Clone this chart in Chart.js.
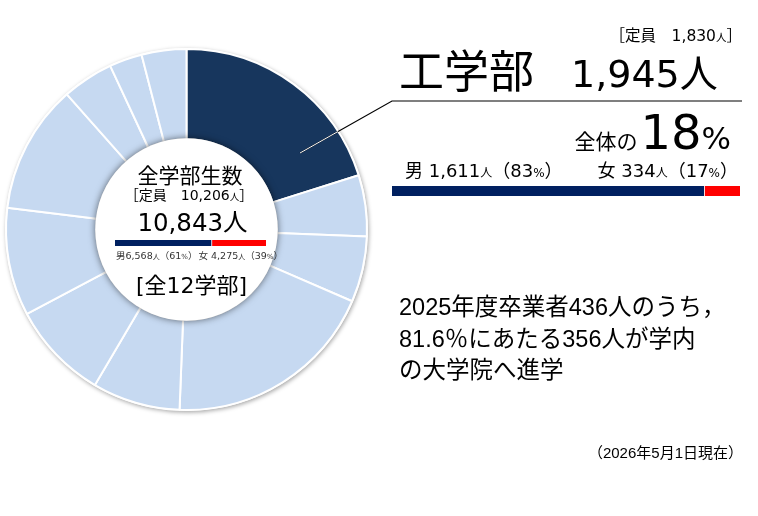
<!DOCTYPE html>
<html lang="ja">
<head>
<meta charset="utf-8">
<script src="https://cdn.jsdelivr.net/npm/chart.js@4.4.1/dist/chart.umd.min.js"></script>
<style>
  html, body { margin: 0; padding: 0; background: #fff; }
  #wrap { position: relative; width: 758px; height: 516px; overflow: hidden; }
  #donut { position: absolute; left: 0; top: 0; }
  .bar { position: absolute; }
  #overlay { position: absolute; left: 0; top: 0; pointer-events: none; }
  .mei { font-family: "DejaVu Sans", "Noto Sans CJK JP", sans-serif; fill: #000; }
  .ari { font-family: "Liberation Sans", "Noto Sans CJK JP", sans-serif; fill: #000; }
</style>
</head>
<body>
<div id="wrap">
  <canvas id="donut" width="758" height="516"></canvas>
  <canvas id="allBar" class="bar" width="151" height="6" style="left:115px;top:239.5px"></canvas>
  <canvas id="engBar" class="bar" width="348" height="10" style="left:392px;top:186px"></canvas>

  <svg id="overlay" width="758" height="516">
    <!-- right side: 工学部 -->
    <text class="mei" x="742" y="40.5" text-anchor="end" style="font-size:15.5px">［定員　1,830<tspan style="font-size:10.5px">人</tspan>］</text>
    <text class="mei" x="399" y="88" style="font-size:45px">工学部</text>
    <text class="mei" x="571" y="87" style="font-size:38px">1,945人</text>
    <text class="mei" x="731" y="149" text-anchor="end"><tspan style="font-size:21px">全体の</tspan><tspan style="font-size:48px" dx="3">18</tspan><tspan style="font-size:31px">%</tspan></text>
    <text class="mei" x="405" y="177" style="font-size:18px">男 1,611<tspan style="font-size:12px">人</tspan>（83<tspan style="font-size:12px">%</tspan>）</text>
    <text class="mei" x="738" y="177" text-anchor="end" style="font-size:18px">女 334<tspan style="font-size:12px">人</tspan>（17<tspan style="font-size:12px">%</tspan>）</text>

    <!-- center of donut -->
    <text class="mei" x="190" y="183" text-anchor="middle" style="font-size:21px">全学部生数</text>
    <text class="mei" x="189" y="200" text-anchor="middle" style="font-size:14px">［定員　10,206<tspan style="font-size:9.5px">人</tspan>］</text>
    <text class="mei" x="192.5" y="231" text-anchor="middle" style="font-size:24.5px">10,843人</text>
    <text class="mei" x="116" y="258.5" style="font-size:9.5px;fill:#333">男6,568<tspan style="font-size:7px">人</tspan>（61<tspan style="font-size:7px">%</tspan>）</text>
    <text class="mei" x="283" y="258.5" text-anchor="end" style="font-size:9.5px;fill:#333">女 4,275<tspan style="font-size:7px">人</tspan>（39<tspan style="font-size:7px">%</tspan>）</text>
    <text class="mei" x="191.5" y="293" text-anchor="middle" style="font-size:22px">[全12学部]</text>

    <!-- note -->
    <text class="ari" x="399" y="315" style="font-size:23.5px">2025年度卒業者436人のうち，</text>
    <text class="ari" x="399" y="347" style="font-size:23.5px">81.6％にあたる356人が学内</text>
    <text class="ari" x="399" y="378" style="font-size:23.5px">の大学院へ進学</text>
    <text class="ari" x="743" y="458" text-anchor="end" style="font-size:15px">（2026年5月1日現在）</text>
  </svg>
</div>

<script>
// students per faculty, clockwise from 12 o'clock
const facultyLabels = ['工学部', '学部2', '学部3', '学部4', '学部5', '学部6',
                       '学部7', '学部8', '学部9', '学部10', '学部11'];
const facultyStudents = [2184, 593, 639, 2072, 852, 952, 1048, 1253, 497, 319, 434];
const highlightIndex = 0;

// male / female bars
const genderLabels = ['男', '女'];
const allGender = [6893, 3950];
const engGender = [1742, 203];

const DARK = '#17365D';
const LIGHT = '#C6D9F1';
const NAVY = '#002060';
const RED = '#FF0000';

// shadows under the ring and around the white centre, plus the callout line
const ringDeco = {
  id: 'ringDeco',
  beforeDatasetsDraw(chart) {
    const arc = chart.getDatasetMeta(0).data[0];
    const ctx = chart.ctx;
    ctx.save();
    ctx.shadowColor = 'rgba(0,0,0,0.35)';
    ctx.shadowBlur = 4;
    ctx.shadowOffsetX = 1;
    ctx.shadowOffsetY = 1.5;
    ctx.fillStyle = '#fff';
    ctx.beginPath();
    ctx.arc(arc.x, arc.y, arc.outerRadius + 1, 0, Math.PI * 2);
    ctx.fill();
    ctx.restore();
  },
  afterDatasetsDraw(chart) {
    const arc = chart.getDatasetMeta(0).data[0];
    const ctx = chart.ctx;
    ctx.save();
    ctx.shadowColor = 'rgba(0,0,0,0.55)';
    ctx.shadowBlur = 7;
    ctx.fillStyle = '#fff';
    ctx.beginPath();
    ctx.arc(arc.x, arc.y, arc.innerRadius + 1, 0, Math.PI * 2);
    ctx.fill();
    ctx.restore();
  },
  afterDraw(chart) {
    const arc = chart.getDatasetMeta(0).data[highlightIndex];
    const ctx = chart.ctx;
    const pts = [[300, 153], [392, 101], [742, 101]];
    ctx.save();
    ctx.lineWidth = 1.2;
    ctx.strokeStyle = '#000';
    ctx.beginPath();
    ctx.moveTo(pts[0][0], pts[0][1]);
    pts.slice(1).forEach(p => ctx.lineTo(p[0], p[1]));
    ctx.stroke();
    // part over the dark slice is white
    ctx.beginPath();
    ctx.arc(arc.x, arc.y, arc.outerRadius, 0, Math.PI * 2);
    ctx.clip();
    ctx.strokeStyle = '#fff';
    ctx.lineWidth = 1;
    ctx.beginPath();
    ctx.moveTo(pts[0][0], pts[0][1]);
    ctx.lineTo(pts[1][0], pts[1][1]);
    ctx.stroke();
    ctx.restore();
  }
};

new Chart(document.getElementById('donut').getContext('2d'), {
  type: 'doughnut',
  data: {
    labels: facultyLabels,
    datasets: [{
      data: facultyStudents,
      backgroundColor: facultyStudents.map((v, i) => i === highlightIndex ? DARK : LIGHT),
      borderColor: '#fff',
      borderWidth: 2,
      offset: 0,
      hoverOffset: 0
    }]
  },
  options: {
    responsive: false,
    animation: false,
    cutout: '50%',
    layout: { padding: { left: 5, top: 48, right: 390, bottom: 105 } },
    plugins: { legend: { display: false }, tooltip: { enabled: false } },
    events: []
  },
  plugins: [ringDeco]
});

function genderBar(id, values) {
  new Chart(document.getElementById(id).getContext('2d'), {
    type: 'bar',
    data: {
      labels: ['計'],
      datasets: [
        { label: genderLabels[0], data: [values[0]], backgroundColor: NAVY,
          borderWidth: 0, barPercentage: 1, categoryPercentage: 1 },
        { label: genderLabels[1], data: [values[1]], backgroundColor: RED,
          borderColor: '#fff', borderSkipped: false,
          borderWidth: { left: 1.5, right: 0, top: 0, bottom: 0 },
          barPercentage: 1, categoryPercentage: 1 }
      ]
    },
    options: {
      indexAxis: 'y',
      responsive: false,
      animation: false,
      layout: { padding: 0 },
      scales: {
        x: { display: false, stacked: true, min: 0, max: values[0] + values[1] },
        y: { display: false, stacked: true }
      },
      plugins: { legend: { display: false }, tooltip: { enabled: false } },
      events: []
    }
  });
}
genderBar('allBar', allGender);
genderBar('engBar', engGender);
</script>
</body>
</html>
